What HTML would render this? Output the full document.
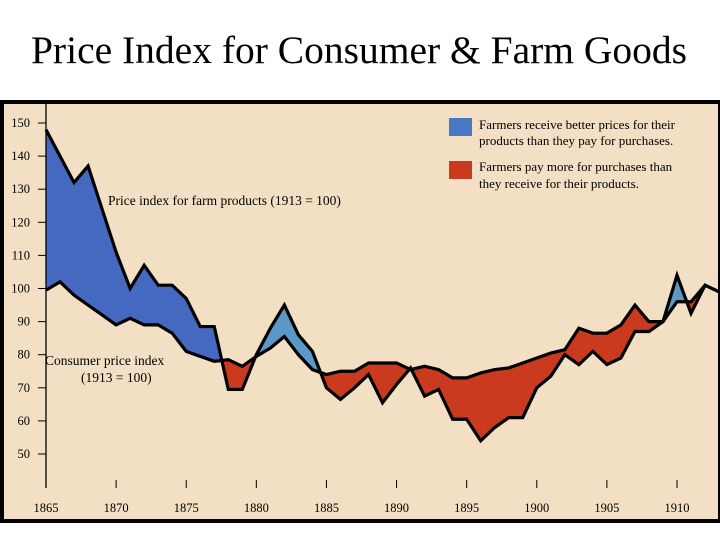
<!DOCTYPE html>
<html><head><meta charset="utf-8"><style>
body{margin:0;background:#fff;width:720px;height:540px;overflow:hidden}
svg{display:block}
text{font-family:"Liberation Serif",serif}
</style></head><body>
<svg width="720" height="540">
<text x="359" y="63" text-anchor="middle" font-size="39.5">Price Index for Consumer &amp; Farm Goods</text>
<rect x="2" y="102" width="718" height="419" fill="#f3e0c4" stroke="#000" stroke-width="4"/>
<g id="fills"></g>
<g id="lines"></g>
<g id="axes"></g>
<text x="108" y="205" font-size="13.5">Price index for farm products (1913 = 100)</text>
<text x="45" y="365" font-size="13.5">Consumer price index</text>
<text x="81" y="382" font-size="13.5">(1913 = 100)</text>
<rect x="449" y="118" width="23" height="18" fill="#4a78c4"/>
<text x="479" y="129" font-size="13">Farmers receive better prices for their</text>
<text x="479" y="145" font-size="13">products than they pay for purchases.</text>
<rect x="449" y="161" width="23" height="18" fill="#c93a1e"/>
<text x="479" y="171" font-size="13">Farmers pay more for purchases than</text>
<text x="479" y="188" font-size="13">they receive for their products.</text>
</svg>
<script>
const years=[1865,1866,1867,1868,1869,1870,1871,1872,1873,1874,1875,1876,1877,1878,1879,1880,1881,1882,1883,1884,1885,1886,1887,1888,1889,1890,1891,1892,1893,1894,1895,1896,1897,1898,1899,1900,1901,1902,1903,1904,1905,1906,1907,1908,1909,1910,1911,1912,1913];
const farm=[148,140,132,137,124,111,100,107,101,101,97,88.5,88.5,69.5,69.5,80,88,95,86,81,70,66.5,70,74,65.5,71,76,67.5,69.5,60.5,60.5,54,58,61,61,70,73.5,80,77,81,77,79,87,87,90,104,92.5,101,99];
const cpi=[99.5,102,98,95,92,89,91,89,89,86.5,81,79.5,78,78.5,76.5,79.5,82,85.5,80,75.5,74,75,75,77.5,77.5,77.5,75.5,76.5,75.5,73,73,74.5,75.5,76,77.5,79,80.5,81.5,88,86.5,86.5,89,95,90,90,96,96,101,99];
const yTicks=[50,60,70,80,90,100,110,120,130,140,150];
const xTicks=[1865,1870,1875,1880,1885,1890,1895,1900,1905,1910];
const NS="http://www.w3.org/2000/svg";
const X=y=>46+(y-1865)*631/45;
const Y=v=>123+(150-v)*3.31;
function mk(tag,attrs,parent){const e=document.createElementNS(NS,tag);for(const k in attrs)e.setAttribute(k,attrs[k]);parent.appendChild(e);return e;}
const fills=document.getElementById('fills'),lines=document.getElementById('lines'),axes=document.getElementById('axes');
function color(yr,pos){return pos?(yr<1878?'#4569c0':'#5b98c6'):'#c93a1e';}
for(let i=0;i<years.length-1;i++){
  const d0=farm[i]-cpi[i],d1=farm[i+1]-cpi[i+1];
  const x0=years[i],x1=years[i+1];
  let polys=[];
  if(d0*d1<0){
    const t=d0/(d0-d1),xm=x0+t*(x1-x0),vm=farm[i]+t*(farm[i+1]-farm[i]);
    polys.push([[[x0,farm[i]],[xm,vm],[x0,cpi[i]]],d0>0]);
    polys.push([[[xm,vm],[x1,farm[i+1]],[x1,cpi[i+1]]],d1>0]);
  }else{
    polys.push([[[x0,farm[i]],[x1,farm[i+1]],[x1,cpi[i+1]],[x0,cpi[i]]],(d0+d1)>0]);
  }
  polys.forEach(([pts,pos])=>{
    const p=mk('polygon',{points:pts.map(q=>X(q[0])+','+Y(q[1])).join(' '),fill:color(x0,pos),stroke:color(x0,pos),'stroke-width':0.6},fills);
    
    
  });
}
[[farm,'farm-price-line'],[cpi,'consumer-price-line']].forEach(([arr,n])=>{
  const l=mk('polyline',{points:arr.map((v,i)=>X(years[i])+','+Y(v)).join(' '),fill:'none',stroke:'#000','stroke-width':3.2,'stroke-linejoin':'miter'},lines);
  
  
});
const ya=mk('line',{x1:46,y1:104,x2:46,y2:488,stroke:'#000','stroke-width':1.3},axes);


yTicks.forEach(v=>{
  mk('line',{x1:38,x2:46,y1:Y(v),y2:Y(v),stroke:'#000','stroke-width':1},axes);
  const t=mk('text',{x:30,y:Y(v)+4,'text-anchor':'end','font-size':12.5},axes);
  t.textContent=v;
  
  
});
xTicks.forEach(v=>{
  mk('line',{x1:X(v),x2:X(v),y1:480,y2:488,stroke:'#000','stroke-width':1},axes);
  const t=mk('text',{x:X(v),y:512,'text-anchor':'middle','font-size':12.5},axes);
  t.textContent=v;
  
  
});
</script>
</body></html>
